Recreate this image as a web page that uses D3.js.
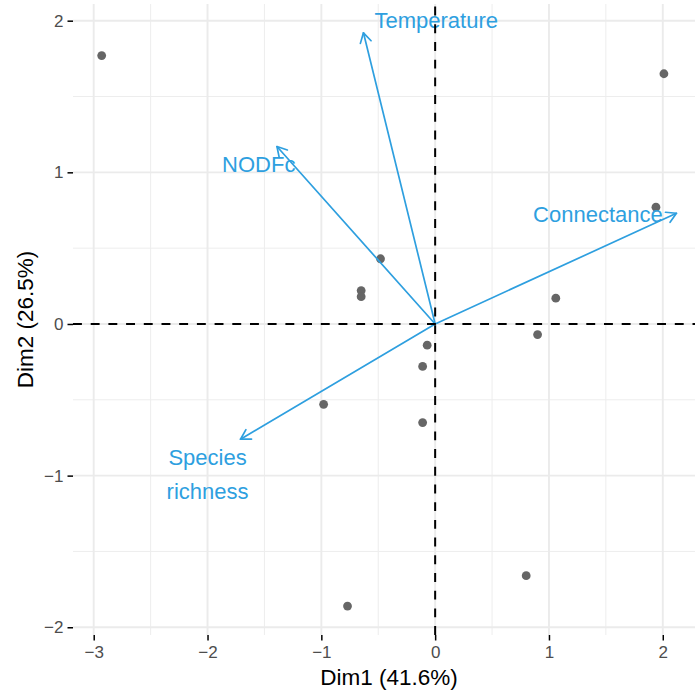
<!DOCTYPE html>
<html>
<head>
<meta charset="utf-8">
<script src="https://cdn.jsdelivr.net/npm/d3@7"></script>
<style>
  html, body { margin: 0; padding: 0; background: #fff; }
  svg { display: block; font-family: "Liberation Sans", Arial, Helvetica, sans-serif; }
</style>
</head>
<body>
<svg id="chart" width="695" height="692"></svg>
<script>
// Individuals (PCA scores on Dim1 / Dim2)
const indX = [-2.93, 2.01, 1.94, 1.06, 0.90, -0.48, -0.65, -0.65, -0.07, -0.11, -0.98, -0.11, 0.80, -0.77];
const indY = [1.77, 1.65, 0.77, 0.17, -0.07, 0.43, 0.22, 0.18, -0.14, -0.28, -0.53, -0.65, -1.66, -1.86];

// Variables (arrow end points) and their label anchors
const varNames = ["Temperature", "NODFc", "Connectance", "Species\nrichness"];
const varX = [-0.63, -1.39, 2.12, -1.71];
const varY = [1.92, 1.17, 0.73, -0.76];
const varLabelX = [0.01, -1.55, 1.43, -2.00];
const varLabelY = [2.00, 1.05, 0.72, -0.99];

// Axis ticks
const xTicks = [-3, -2, -1, 0, 1, 2];
const yTicks = [-2, -1, 0, 1, 2];
const xMinor = [-2.5, -1.5, -0.5, 0.5, 1.5];
const yMinor = [-1.5, -0.5, 0.5, 1.5];

const xTitle = "Dim1 (41.6%)";
const yTitle = "Dim2 (26.5%)";

const svg = d3.select("#chart");
const panel = { left: 73, right: 705, top: 4, bottom: 635 };

const x = d3.scaleLinear().domain([-3.182, 2.371]).range([panel.left, panel.right]);
const y = d3.scaleLinear().domain([-2.051, 2.110]).range([panel.bottom, panel.top]);

const fmt = d => (d < 0 ? "\u2212" + Math.abs(d) : String(d));
const blue = "#2E9FDF";

// Grid
const grid = svg.append("g");
grid.selectAll(".vmin").data(xMinor).join("line")
  .attr("x1", d => x(d)).attr("x2", d => x(d))
  .attr("y1", panel.top).attr("y2", panel.bottom)
  .attr("stroke", "#ededed").attr("stroke-width", 1);
grid.selectAll(".hmin").data(yMinor).join("line")
  .attr("y1", d => y(d)).attr("y2", d => y(d))
  .attr("x1", panel.left).attr("x2", panel.right)
  .attr("stroke", "#ededed").attr("stroke-width", 1);
grid.selectAll(".vmaj").data(xTicks).join("line")
  .attr("x1", d => x(d)).attr("x2", d => x(d))
  .attr("y1", panel.top).attr("y2", panel.bottom)
  .attr("stroke", "#ebebeb").attr("stroke-width", 1.9);
grid.selectAll(".hmaj").data(yTicks).join("line")
  .attr("y1", d => y(d)).attr("y2", d => y(d))
  .attr("x1", panel.left).attr("x2", panel.right)
  .attr("stroke", "#ebebeb").attr("stroke-width", 1.9);

// Axes
const xAxis = d3.axisBottom(x).tickValues(xTicks).tickFormat(fmt).tickSize(5.5).tickPadding(5);
const yAxis = d3.axisLeft(y).tickValues(yTicks).tickFormat(fmt).tickSize(5.5).tickPadding(4);

const gx = svg.append("g").attr("transform", `translate(0,${panel.bottom})`).call(xAxis);
const gy = svg.append("g").attr("transform", `translate(${panel.left},0)`).call(yAxis);
[gx, gy].forEach(g => {
  g.select(".domain").remove();
  g.selectAll(".tick line").attr("stroke", "#000").attr("stroke-width", 1.5);
  g.selectAll(".tick text").attr("fill", "#4d4d4d").style("font-size", "17px")
    .style("font-family", "'Liberation Sans', Arial, sans-serif");
});

// Axis titles
svg.append("text")
  .attr("x", (panel.left + panel.right) / 2).attr("y", 685)
  .attr("text-anchor", "middle").attr("fill", "#000")
  .style("font-size", "22.5px").text(xTitle);
svg.append("text")
  .attr("transform", `translate(33,${(panel.top + panel.bottom) / 2}) rotate(-90)`)
  .attr("text-anchor", "middle").attr("fill", "#000")
  .style("font-size", "22.5px").text(yTitle);

// Individuals
svg.append("g").selectAll("circle").data(d3.range(indX.length)).join("circle")
  .attr("cx", i => x(indX[i])).attr("cy", i => y(indY[i]))
  .attr("r", 4.4).attr("fill", "#666666");

// Variable arrows
const arrows = svg.append("g").attr("stroke", blue).attr("stroke-width", 1.7)
  .attr("fill", "none").attr("stroke-linecap", "round").attr("stroke-linejoin", "round");
const head = 11, ang = Math.PI / 6;
varNames.forEach((name, i) => {
  const x0 = x(0), y0 = y(0), x1 = x(varX[i]), y1 = y(varY[i]);
  const a = Math.atan2(y1 - y0, x1 - x0);
  arrows.append("line").attr("x1", x0).attr("y1", y0).attr("x2", x1).attr("y2", y1);
  const p1 = [x1 - head * Math.cos(a - ang), y1 - head * Math.sin(a - ang)];
  const p2 = [x1 - head * Math.cos(a + ang), y1 - head * Math.sin(a + ang)];
  arrows.append("path").attr("d", `M${p1[0]},${p1[1]}L${x1},${y1}L${p2[0]},${p2[1]}`);
});

// Variable labels
const labels = svg.append("g").attr("fill", blue).attr("text-anchor", "middle")
  .style("font-size", "22px");
varNames.forEach((name, i) => {
  const lines = name.split("\n");
  const t = labels.append("text").attr("x", x(varLabelX[i])).attr("y", y(varLabelY[i]));
  const lh = 34.5;
  lines.forEach((ln, j) => {
    t.append("tspan").attr("x", x(varLabelX[i]))
      .attr("dy", j === 0 ? `${0.35 * 22 - (lines.length - 1) * lh / 2}px` : `${lh}px`)
      .text(ln);
  });
});

// Reference lines through the origin
svg.append("line")
  .attr("x1", panel.left).attr("x2", panel.right)
  .attr("y1", y(0)).attr("y2", y(0))
  .attr("stroke", "#000").attr("stroke-width", 2).attr("stroke-dasharray", "8.9 8.8");
svg.append("line")
  .attr("x1", x(0)).attr("x2", x(0))
  .attr("y1", panel.bottom).attr("y2", panel.top)
  .attr("stroke", "#000").attr("stroke-width", 2).attr("stroke-dasharray", "8.9 8.8");
</script>
</body>
</html>
